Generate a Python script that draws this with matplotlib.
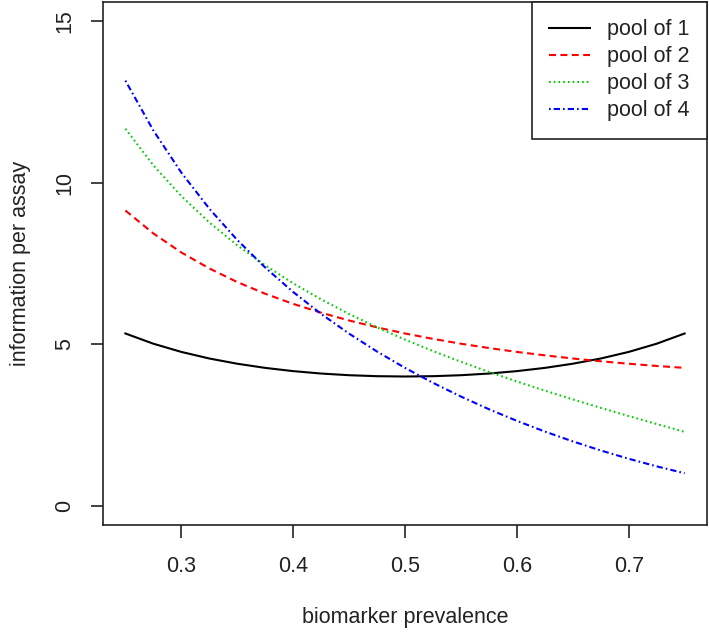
import matplotlib.pyplot as plt

plt.rcParams['font.family'] = ['Liberation Sans', 'DejaVu Sans']
plt.rcParams['lines.scale_dashes'] = False

# values
prevalence = [0.25, 0.275, 0.30, 0.325, 0.35, 0.375, 0.40, 0.425, 0.45, 0.475, 0.50,
              0.525, 0.55, 0.575, 0.60, 0.625, 0.65, 0.675, 0.70, 0.725, 0.75]
pool1 = [5.333, 5.016, 4.762, 4.558, 4.396, 4.267, 4.167, 4.092, 4.040, 4.010, 4.000,
         4.010, 4.040, 4.092, 4.167, 4.267, 4.396, 4.558, 4.762, 5.016, 5.333]
pool2 = [9.143, 8.432, 7.843, 7.348, 6.926, 6.564, 6.250, 5.976, 5.735, 5.522, 5.333,
         5.165, 5.016, 4.882, 4.762, 4.655, 4.558, 4.472, 4.396, 4.327, 4.267]
pool3 = [11.676, 10.542, 9.589, 8.773, 8.065, 7.442, 6.888, 6.390, 5.938, 5.524, 5.143,
         4.788, 4.456, 4.143, 3.846, 3.563, 3.291, 3.029, 2.775, 2.528, 2.286]
pool4 = [13.166, 11.621, 10.317, 9.200, 8.229, 7.375, 6.618, 5.939, 5.328, 4.773, 4.267,
         3.804, 3.379, 2.987, 2.627, 2.295, 1.990, 1.709, 1.452, 1.217, 1.004]
labels = ['pool of 1', 'pool of 2', 'pool of 3', 'pool of 4']
x_ticks = [0.3, 0.4, 0.5, 0.6, 0.7]
y_ticks = [0, 5, 10, 15]

fs = 15.5
fig = plt.figure(figsize=(7.09, 6.33), dpi=100)
ax = fig.add_axes([0.1453, 0.1706, 0.9972 - 0.1453, 0.9968 - 0.1706])

lw = 1.5
ax.plot(prevalence, pool1, color='black', lw=lw, label=labels[0])
ax.plot(prevalence, pool2, color='#FF0000', lw=lw, dashes=(5, 3.2), label=labels[1])
ax.plot(prevalence, pool3, color='#00CD00', lw=lw, dashes=(1.2, 2.2), label=labels[2])
ax.plot(prevalence, pool4, color='#0000FF', lw=lw, dashes=(1.2, 2.2, 4.5, 2.2), label=labels[3])

ax.set_xlim(0.23, 0.77)
ax.set_ylim(-0.6, 15.6)
ax.set_xticks(x_ticks)
ax.set_xticklabels([str(t) for t in x_ticks])
ax.set_yticks(y_ticks)
ax.set_yticklabels([str(t) for t in y_ticks], rotation=90, va='center')

for s in ax.spines.values():
    s.set_linewidth(1.2)
    s.set_color('#222222')
ax.tick_params(axis='both', length=9, width=1.2, color='#222222', labelsize=fs,
               labelcolor='#222222')
ax.tick_params(axis='x', pad=13)
ax.tick_params(axis='y', pad=11)

ax.set_xlabel('biomarker prevalence', fontsize=fs, color='#222222', labelpad=22)
ax.set_ylabel('information per assay', fontsize=fs, color='#222222', labelpad=17)

leg = ax.legend(loc='upper right', borderaxespad=0, fontsize=fs, fancybox=False,
                framealpha=1, edgecolor='#222222', handlelength=1.9,
                handletextpad=0.8, labelspacing=0.28, borderpad=0.8)
leg.get_frame().set_linewidth(1.2)
for t in leg.get_texts():
    t.set_color('#222222')

fig.savefig('out.png', dpi=100)
